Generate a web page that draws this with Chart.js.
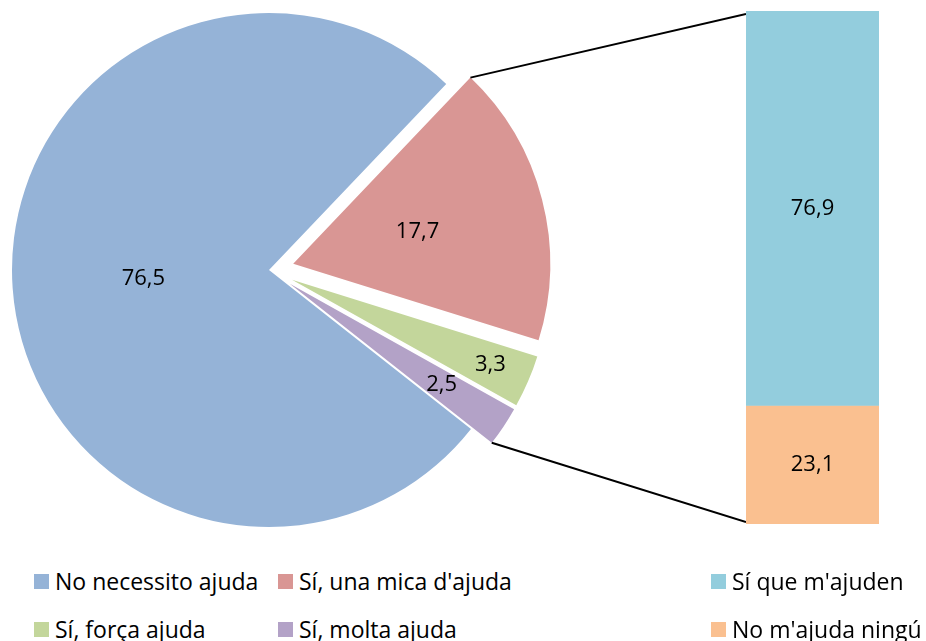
<!DOCTYPE html>
<html>
<head>
<meta charset="utf-8">
<script src="https://cdn.jsdelivr.net/npm/chart.js@4"></script>
<style>
  body { margin: 0; background: #fff; width: 926px; height: 641px; overflow: hidden; position: relative; font-family: "Open Sans", sans-serif; }
  #pie { position: absolute; left: 0; top: 0; }
  #bar { position: absolute; left: 700px; top: 0; }
  .leg { position: absolute; display: flex; align-items: center; height: 30px; font-size: 23px; color: #000; white-space: nowrap; }
  .leg .box { width: 15px; height: 15px; margin-right: 6px; flex: none; }
</style>
</head>
<body>
<canvas id="pie" width="746" height="560"></canvas>
<canvas id="bar" width="226" height="560"></canvas>
<div id="legend"></div>
<script>
const pieLabels = ["No necessito ajuda", "Sí, una mica d'ajuda", "Sí, força ajuda", "Sí, molta ajuda"];
const pieValues = [76.5, 17.7, 3.3, 2.5];
const pieColors = ["#95B3D7", "#D99694", "#C3D69B", "#B3A2C7"];

const barLabels = ["Sí que m'ajuden", "No m'ajuda ningú"];
const barValues = [76.9, 23.1];
const barColors = ["#93CDDD", "#FAC090"];

const fmt = (v) => v.toFixed(1).replace(".", ",");
const labelFont = "22px 'Open Sans'";

// how far out along each slice the value label sits (fraction of radius)
const pieLabelPos = [0.49, 0.5, 0.84, 0.71];
const explodePx = 25;

// ======== Bar (second plot) =========
const barChart = new Chart(document.getElementById("bar"), {
  type: "bar",
  data: {
    labels: [""],
    datasets: barLabels.map((label, i) => ({
      label: label,
      data: [barValues[i]],
      backgroundColor: barColors[i],
      barPercentage: 1,
      categoryPercentage: 1,
    })),
  },
  options: {
    responsive: false,
    animation: false,
    layout: { padding: { left: 46, right: 47, top: 11, bottom: 36 } },
    plugins: { legend: { display: false }, tooltip: { enabled: false } },
    scales: {
      x: { display: false, stacked: true },
      y: { display: false, stacked: true, reverse: true, min: 0, max: 100 },
    },
  },
  plugins: [
    {
      id: "barValues",
      afterDatasetsDraw(chart) {
        const ctx = chart.ctx;
        ctx.save();
        ctx.font = labelFont;
        ctx.fillStyle = "#000";
        ctx.textAlign = "center";
        ctx.textBaseline = "middle";
        chart.data.datasets.forEach((ds, i) => {
          const bar = chart.getDatasetMeta(i).data[0];
          ctx.fillText(fmt(ds.data[0]), bar.x, (bar.y + bar.base) / 2);
        });
        ctx.restore();
      },
    },
  ],
});

// ======== Pie =========
const pieChart = new Chart(document.getElementById("pie"), {
  type: "pie",
  data: {
    labels: pieLabels,
    datasets: [
      {
        data: pieValues,
        backgroundColor: pieColors,
        borderWidth: 0,
        radius: 257,
        clip: false,
      },
    ],
  },
  options: {
    responsive: false,
    animation: false,
    rotation: 128.2,
    layout: { padding: { left: 0, top: 0, right: 208, bottom: 20 } },
    plugins: { legend: { display: false }, tooltip: { enabled: false } },
  },
  plugins: [
    {
      // pull the small slices out, like Excel's pie-of-bar
      id: "explode",
      afterDatasetUpdate(chart, args) {
        args.meta.data.forEach((arc, i) => {
          if (i === 0) return;
          const mid = (arc.startAngle + arc.endAngle) / 2;
          arc.x += Math.cos(mid) * explodePx;
          arc.y += Math.sin(mid) * explodePx;
        });
      },
    },
    {
      id: "pieValuesAndLines",
      afterDatasetsDraw(chart) {
        const ctx = chart.ctx;
        const arcs = chart.getDatasetMeta(0).data;
        ctx.save();
        ctx.font = labelFont;
        ctx.fillStyle = "#000";
        ctx.textAlign = "center";
        ctx.textBaseline = "middle";
        arcs.forEach((arc, i) => {
          const mid = (arc.startAngle + arc.endAngle) / 2;
          const r = arc.outerRadius * pieLabelPos[i];
          ctx.fillText(fmt(pieValues[i]), arc.x + Math.cos(mid) * r, arc.y + Math.sin(mid) * r);
        });

        // connector lines to the bar
        const first = arcs[1];
        const last = arcs[arcs.length - 1];
        const bar = barChart.getDatasetMeta(0).data[0];
        const dx = barChart.canvas.offsetLeft - chart.canvas.offsetLeft;
        const barLeft = dx + bar.x - bar.width / 2;
        const area = barChart.chartArea;
        ctx.strokeStyle = "#000";
        ctx.lineWidth = 2;
        ctx.beginPath();
        ctx.moveTo(first.x + Math.cos(first.startAngle) * first.outerRadius,
                   first.y + Math.sin(first.startAngle) * first.outerRadius);
        ctx.lineTo(barLeft, area.top + 3);
        ctx.moveTo(last.x + Math.cos(last.endAngle) * last.outerRadius,
                   last.y + Math.sin(last.endAngle) * last.outerRadius);
        ctx.lineTo(barLeft, area.bottom - 2);
        ctx.stroke();
        ctx.restore();
      },
    },
  ],
});

// ======== Legend =========
const legendItems = [
  { label: pieLabels[0], color: pieColors[0], left: 34, top: 566 },
  { label: pieLabels[1], color: pieColors[1], left: 278, top: 566 },
  { label: pieLabels[2], color: pieColors[2], left: 34, top: 614 },
  { label: pieLabels[3], color: pieColors[3], left: 278, top: 614 },
  { label: barLabels[0], color: barColors[0], left: 711, top: 566 },
  { label: barLabels[1], color: barColors[1], left: 711, top: 614 },
];
const legend = document.getElementById("legend");
legendItems.forEach((item) => {
  const div = document.createElement("div");
  div.className = "leg";
  div.style.left = item.left + "px";
  div.style.top = item.top + "px";
  const box = document.createElement("span");
  box.className = "box";
  box.style.background = item.color;
  div.appendChild(box);
  div.appendChild(document.createTextNode(item.label));
  legend.appendChild(div);
});
</script>
</body>
</html>
